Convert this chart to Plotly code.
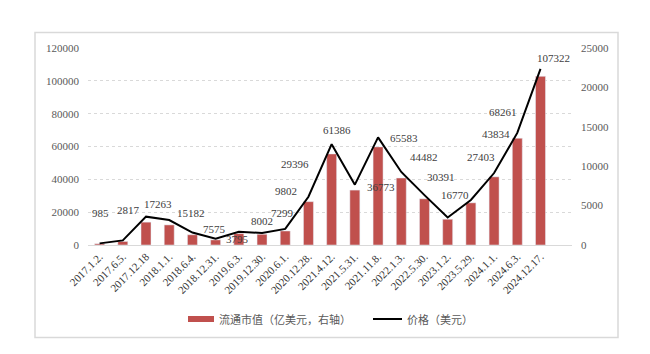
import plotly.graph_objects as go

# ---- data ----
dates = ["2017.1.2.", "2017.6.5.", "2017.12.18", "2018.1.1.", "2018.6.4.", "2018.12.31.",
         "2019.6.3.", "2019.12.30.", "2020.6.1.", "2020.12.28.", "2021.4.12.", "2021.5.31.",
         "2021.11.8.", "2022.1.3.", "2022.5.30.", "2023.1.2.", "2023.5.29.", "2024.1.1.",
         "2024.6.3.", "2024.12.17."]
market_cap = [160, 450, 2900, 2550, 1300, 650, 1450, 1360, 1780, 5500, 11560, 6970,
              12450, 8500, 5860, 3270, 5350, 8650, 13550, 21400]   # 亿美元 (right axis)
price = [985, 2817, 17263, 15182, 7575, 3795, 8002, 7299, 9802, 29396, 61386, 36773,
         65583, 44482, 30391, 16770, 27403, 43834, 68261, 107322]  # 美元 (left axis)
left_ticks = [0, 20000, 40000, 60000, 80000, 100000, 120000]
right_ticks = [0, 5000, 10000, 15000, 20000, 25000]

# ---- label offsets (style, px) ----
label_shift = [(1, 30), (6, 30), (12, 13), (22, 7), (22, 4), (22, 0), (23, 11), (20, 20),
               (1, 38), (-13, 33), (5, 14), (26, -2), (26, -1), (23, 15), (17, 18), (7, 22),
               (10, 43), (2, 39), (-14, 21), (13, 11)]

W, H = 650, 354
L, R, T, B = 88, 78, 48, 109
pw, ph = W - L - R, H - T - B

def px(x):
    return (x - L) / pw

def py(y):
    return (H - B - y) / ph

serif = "Liberation Serif"
cjk = "Noto Sans CJK SC"

fig = go.Figure()
fig.add_trace(go.Bar(x=dates, y=market_cap, yaxis="y", marker_color="#c0504d",
                     width=0.43, name="流通市值（亿美元，右轴）", showlegend=False))
fig.add_trace(go.Scatter(x=dates, y=price, yaxis="y2", mode="lines",
                         line=dict(color="#000000", width=2), name="价格（美元）",
                         showlegend=False))

annotations = []
for d, p, (dx, dy) in zip(dates, price, label_shift):
    annotations.append(dict(x=d, y=p, xref="x", yref="y2", text=str(p), showarrow=False,
                            xshift=dx, yshift=dy,
                            font=dict(family=serif, size=11, color="#404040")))

# manual legend
annotations.append(dict(x=px(217), y=py(319), xref="paper", yref="paper",
                        text="流通市值（亿美元，右轴）", showarrow=False, xanchor="left",
                        yanchor="middle", font=dict(family=cjk, size=11, color="#595959")))
annotations.append(dict(x=px(405), y=py(319), xref="paper", yref="paper",
                        text="价格（美元）", showarrow=False, xanchor="left",
                        yanchor="middle", font=dict(family=cjk, size=11, color="#595959")))

shapes = [
    dict(type="rect", xref="paper", yref="paper", x0=px(35), x1=px(618), y0=py(337.5),
         y1=py(32.5), line=dict(color="#d9d9d9", width=1.5), layer="below"),
    dict(type="rect", xref="paper", yref="paper", x0=px(188), x1=px(214), y0=py(322),
         y1=py(316), line=dict(width=0), fillcolor="#c0504d"),
    dict(type="line", xref="paper", yref="paper", x0=px(373), x1=px(402), y0=py(319),
         y1=py(319), line=dict(color="#000000", width=2)),
]

fig.update_layout(
    width=W, height=H, margin=dict(l=L, r=R, t=T, b=B),
    paper_bgcolor="white", plot_bgcolor="white",
    annotations=annotations, shapes=shapes, bargap=0.5,
    xaxis=dict(type="category", tickangle=-45, showgrid=False, showline=True,
               linecolor="#d9d9d9", linewidth=1, ticks="",
               tickfont=dict(family=serif, size=11, color="#333333")),
    yaxis=dict(side="right", range=[0, 25000], tickvals=right_ticks,
               ticktext=[str(v) for v in right_ticks], showgrid=False,
               zeroline=False, ticks="", showline=False, ticklabelstandoff=8,
               tickfont=dict(family=serif, size=11, color="#595959")),
    yaxis2=dict(side="left", overlaying="y", range=[0, 120000], tickvals=left_ticks,
                ticktext=[str(v) for v in left_ticks],
                showgrid=True, gridcolor="#d9d9d9", griddash="dot", gridwidth=1,
                zeroline=False, ticks="", showline=False, ticklabelstandoff=8,
                tickfont=dict(family=serif, size=11, color="#595959")),
)

fig.write_html("out.html")
